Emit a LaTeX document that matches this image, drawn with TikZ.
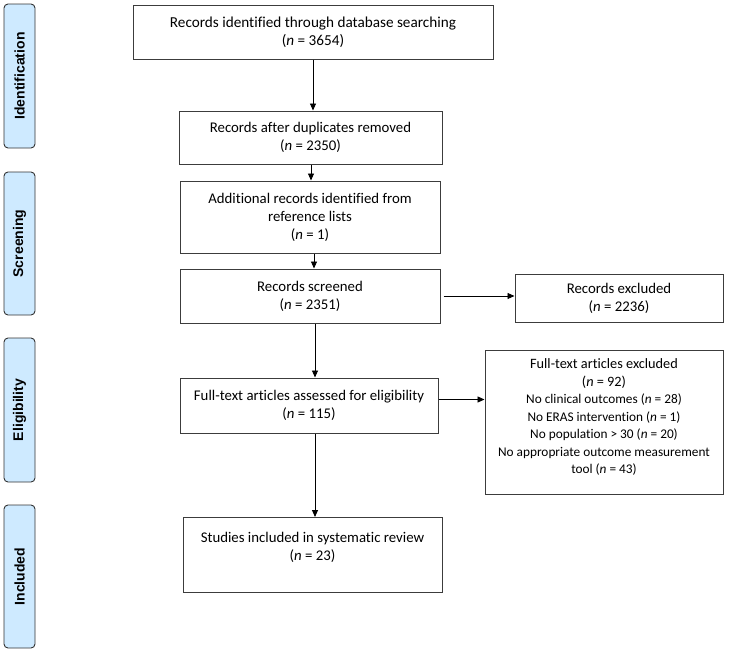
\documentclass[tikz,border=0pt]{standalone}
\usepackage{fontspec}
\setmainfont{Carlito}[Ligatures={NoCommon}]
\newfontfamily\bandfont{Liberation Sans}
\usetikzlibrary{arrows.meta}
\definecolor{bandfill}{RGB}{206,234,255}
\definecolor{boxline}{RGB}{60,60,60}
\newcommand{\titlesize}{\fontsize{14.3}{17.5}\selectfont}
\begin{document}
\begin{tikzpicture}[x=1pt,y=-1pt,
  box/.style={draw=boxline, line width=1pt, fill=white, align=center, inner sep=0pt,
    font=\fontsize{14.8}{18}\selectfont},
  band/.style={draw=black!80, line width=0.9pt, fill=bandfill, rounded corners=4pt,
    rotate=90, inner sep=0pt, font=\bandfont\bfseries\fontsize{14}{16}\selectfont},
  arr/.style={draw=black, line width=0.9pt, -{Triangle[length=7pt,width=6pt]}}]
\useasboundingbox (0,0) rectangle (739,653);
% phase bands
\node[band, minimum width=144, minimum height=31] (id) at (19.5,76) {Identification};
\node[band, minimum width=143, minimum height=31] (sc) at (19.5,243.5) {Screening};
\node[band, minimum width=144, minimum height=31] (el) at (19.5,410) {Eligibility};
\node[band, minimum width=143, minimum height=31] (in) at (19.5,576.5) {Included};
% boxes
\node[box, minimum width=360, minimum height=54, font=\fontsize{15.2}{18}\selectfont] (b1) at (313,32)
  {Records identified through database searching\\(\textit{n} = 3654)};
\node[box, minimum width=263, minimum height=53] (b2) at (310.5,137.5)
  {Records after duplicates removed\\(\textit{n} = 2350)};
\node[box, minimum width=260, minimum height=72] (b3) at (310,217)
  {Additional records identified from\\reference lists\\(\textit{n} = 1)};
\node[box, minimum width=260, minimum height=54] (b4) at (310,296)
  {Records screened\\(\textit{n} = 2351)};
\node[box, minimum width=208, minimum height=48] (e1) at (619,298)
  {Records excluded\\(\textit{n} = 2236)};
\node[box, minimum width=258, minimum height=55] (b5) at (309,405.5)
  {Full-text articles assessed for eligibility\\(\textit{n} = 115)};
\node[box, minimum width=238, minimum height=144, font=\fontsize{13.3}{17.5}\selectfont] (e2) at (604,422)
  {{\titlesize Full-text articles excluded}\\
   {\titlesize (\textit{n} = 92)}\\
   No clinical outcomes (\textit{n} = 28)\\
   No ERAS intervention (\textit{n} = 1)\\
   No population > 30 (\textit{n} = 20)\\
   No appropriate outcome measurement\\
   tool (\textit{n} = 43)\\[-6.5pt]\mbox{}};
\node[box, minimum width=259, minimum height=75] (b6) at (312.5,555)
  {Studies included in systematic review\\(\textit{n} = 23)\\\mbox{}};
% connectors
\draw[arr] (b1.south) -- (b1.south |- b2.north);
\draw[arr] ([xshift=0.5pt]b2.south) -- ([xshift=0.5pt]b2.south |- b3.north);
\draw[arr] ([xshift=4pt]b3.south) -- ([xshift=4pt]b3.south |- b4.north);
\draw[arr] ([xshift=3pt]b4.east) -- (b4.east -| e1.west);
\draw[arr] ([xshift=5pt]b4.south) -- ([xshift=5pt]b4.south |- b5.north);
\draw[arr] ([yshift=6pt]b5.east) -- ([yshift=6pt]b5.east -| e2.west);
\draw[arr] ([xshift=6pt]b5.south) -- ([xshift=6pt]b5.south |- b6.north);
\end{tikzpicture}
\end{document}
